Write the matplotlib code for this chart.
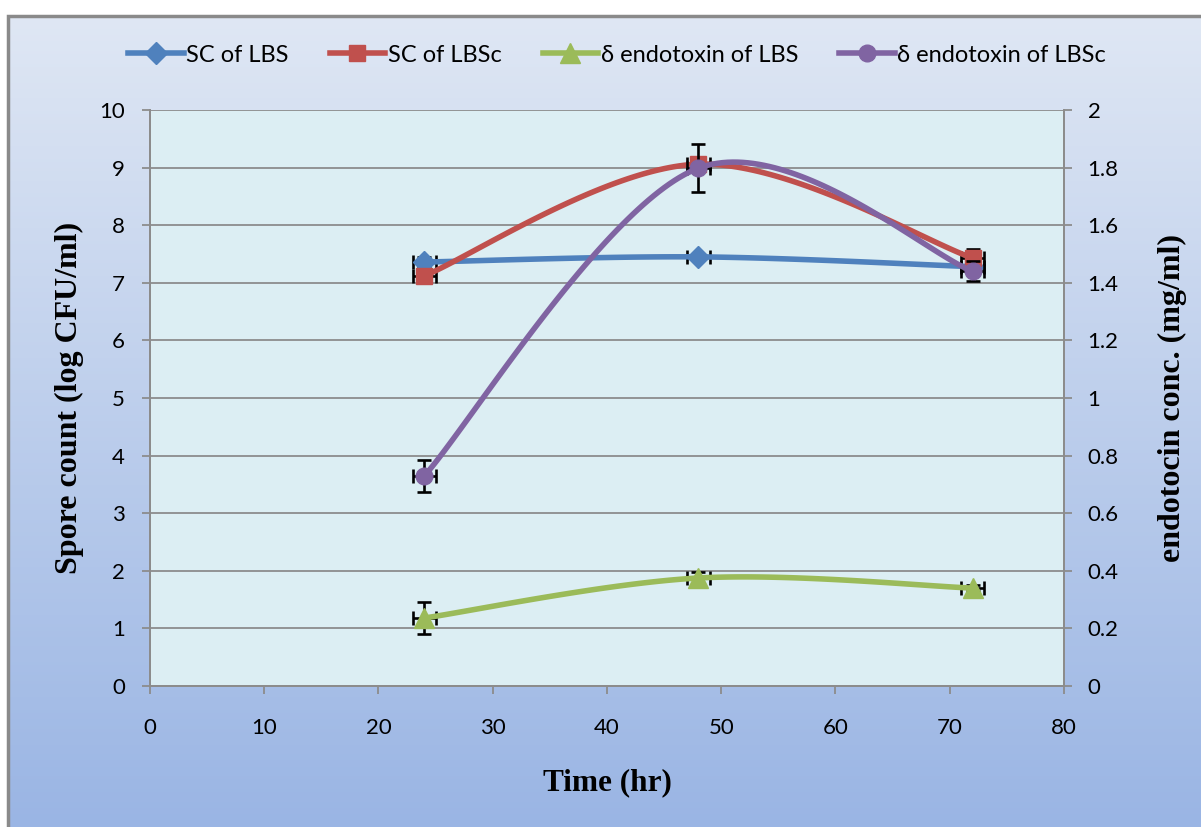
import numpy as np
import matplotlib
matplotlib.use("Agg")
import matplotlib.pyplot as plt
from matplotlib.patches import Rectangle
from matplotlib.lines import Line2D

# Sampling times (hr)
time_hr = [24, 48, 72]
time_err = [1, 1, 1]

# Spore count, log CFU/ml (left axis)
sc_lbs = [7.36, 7.45, 7.28]
sc_lbs_err = [0.08, 0.05, 0.10]
sc_lbsc = [7.12, 9.06, 7.43]
sc_lbsc_err = [0.08, 0.10, 0.15]

# Delta endotoxin concentration, mg/ml (right axis)
endo_lbs = [0.236, 0.375, 0.340]
endo_lbs_err = [0.057, 0.020, 0.010]
endo_lbsc = [0.729, 1.798, 1.440]
endo_lbsc_err = [0.056, 0.083, 0.035]

left_ticks = list(range(0, 11))
right_ticks = [0, 0.2, 0.4, 0.6, 0.8, 1, 1.2, 1.4, 1.6, 1.8, 2]
right_tick_labels = ["0", "0.2", "0.4", "0.6", "0.8", "1", "1.2", "1.4", "1.6", "1.8", "2"]
x_ticks = list(range(0, 81, 10))

BLUE, RED, GREEN, PURPLE = "#4F81BD", "#C0504D", "#9BBB59", "#8064A2"
TICK_FONT = "Lato"
LABEL_FONT = "Liberation Serif"


def smooth(xs, ys, n=60):
    """Bezier smoothing through the points (Catmull-Rom style control points)."""
    p = np.column_stack([xs, ys]).astype(float)
    m = len(p)
    out = []
    for i in range(m - 1):
        p0 = p[max(i - 1, 0)]
        p1 = p[i]
        p2 = p[i + 1]
        p3 = p[min(i + 2, m - 1)]
        c1 = p1 + (p2 - p0) / 6.0
        c2 = p2 - (p3 - p1) / 6.0
        t = np.linspace(0, 1, n)[:, None]
        seg = ((1 - t) ** 3) * p1 + 3 * ((1 - t) ** 2) * t * c1 + 3 * (1 - t) * t ** 2 * c2 + t ** 3 * p2
        out.append(seg if i == 0 else seg[1:])
    out = np.vstack(out)
    return out[:, 0], out[:, 1]


W, H = 1201, 827
fig = plt.figure(figsize=(W / 100, H / 100), dpi=100, facecolor="white")

# Chart area with vertical gradient and grey frame
fx0, fy_top = 8 / W, 1 - 16 / H
bg = fig.add_axes([fx0, 0, 1 - fx0, fy_top], zorder=-10)
grad = np.linspace(0, 1, 256)[:, None]
top_c = np.array([0xDF, 0xE7, 0xF4]) / 255
bot_c = np.array([0x9A, 0xB5, 0xE4]) / 255
img = top_c[None, None, :] * (1 - grad[:, :, None]) + bot_c[None, None, :] * grad[:, :, None]
bg.imshow(img, aspect="auto", extent=[0, 1, 0, 1], origin="upper")
bg.set_xlim(0, 1)
bg.set_ylim(0, 1)
bg.axis("off")
fig.add_artist(Rectangle((fx0, -0.01), 1.1, fy_top + 0.01, transform=fig.transFigure,
                         fill=False, edgecolor="#8A8A8A", linewidth=2.5, zorder=-5))

ax = fig.add_axes([150 / W, 1 - 686 / H, (1064 - 150) / W, (686 - 110) / H])
ax.set_facecolor("#DCEEF3")
ax2 = ax.twinx()

ax.set_xlim(0, 80)
ax.set_ylim(0, 10)
ax2.set_ylim(0, 2)

ax.set_yticks(left_ticks)
ax.set_xticks(x_ticks)
ax2.set_yticks(right_ticks)
ax2.set_yticklabels(right_tick_labels)

ax.yaxis.grid(True, color="#8C8C8C", linewidth=1.3)
ax.set_axisbelow(True)

for a in (ax, ax2):
    for s in a.spines.values():
        s.set_color("#8C8C8C")
        s.set_linewidth(1.3)
    a.tick_params(direction="out", length=6, width=1.3, color="#8C8C8C",
                  labelsize=16, labelcolor="black")
ax.spines["top"].set_visible(False)
ax2.spines["top"].set_visible(False)
ax.tick_params(axis="y", pad=12)
ax.tick_params(axis="x", pad=17)
ax2.tick_params(axis="y", pad=11)
for lab in ax.get_xticklabels() + ax.get_yticklabels() + ax2.get_yticklabels():
    lab.set_fontfamily(TICK_FONT)

lw = 4.0
err_kw = dict(fmt="none", ecolor="black", elinewidth=1.9, capsize=5, capthick=1.9, zorder=3)

# Left-axis series
for ys, ye, col, mk, ms in [(sc_lbs, sc_lbs_err, BLUE, "D", 11),
                            (sc_lbsc, sc_lbsc_err, RED, "s", 12)]:
    sx, sy = smooth(time_hr, ys)
    ax.plot(sx, sy, color=col, lw=lw, zorder=4, solid_capstyle="round")
    ax.errorbar(time_hr, ys, xerr=time_err, yerr=ye, **err_kw)
    ax.plot(time_hr, ys, ls="none", marker=mk, ms=ms, color=col, zorder=5)

# Right-axis series
ax2.set_zorder(ax.get_zorder() + 1)
ax2.patch.set_visible(False)
for ys, ye, col, mk, ms in [(endo_lbs, endo_lbs_err, GREEN, "^", 14),
                            (endo_lbsc, endo_lbsc_err, PURPLE, "o", 12)]:
    sx, sy = smooth(time_hr, ys)
    ax2.plot(sx, sy, color=col, lw=lw, zorder=4, solid_capstyle="round")
    ax2.errorbar(time_hr, ys, xerr=time_err, yerr=ye, **err_kw)
    ax2.plot(time_hr, ys, ls="none", marker=mk, ms=ms, color=col, zorder=5)

ax.set_xlabel("Time (hr)", fontfamily=LABEL_FONT, fontweight="bold", fontsize=22.5, labelpad=22)
ax.set_ylabel("Spore count (log CFU/ml)", fontfamily=LABEL_FONT, fontweight="bold", fontsize=23, labelpad=11)
ax2.set_ylabel("endotocin conc. (mg/ml)", fontfamily=LABEL_FONT, fontweight="bold", fontsize=23, labelpad=28)

handles = [
    Line2D([], [], color=BLUE, lw=lw, marker="D", ms=11),
    Line2D([], [], color=RED, lw=lw, marker="s", ms=12),
    Line2D([], [], color=GREEN, lw=lw, marker="^", ms=14),
    Line2D([], [], color=PURPLE, lw=lw, marker="o", ms=12),
]
labels = ["SC of LBS", "SC of LBSc", "δ endotoxin of LBS", "δ endotoxin of LBSc"]
fig.legend(handles, labels, loc="center", bbox_to_anchor=(617 / W, 1 - 55 / H), ncol=4,
           frameon=False, handlelength=2.35, handletextpad=0.1, columnspacing=1.75,
           prop={"family": TICK_FONT, "size": 17})

fig.savefig("out.png", dpi=100, facecolor="white")
